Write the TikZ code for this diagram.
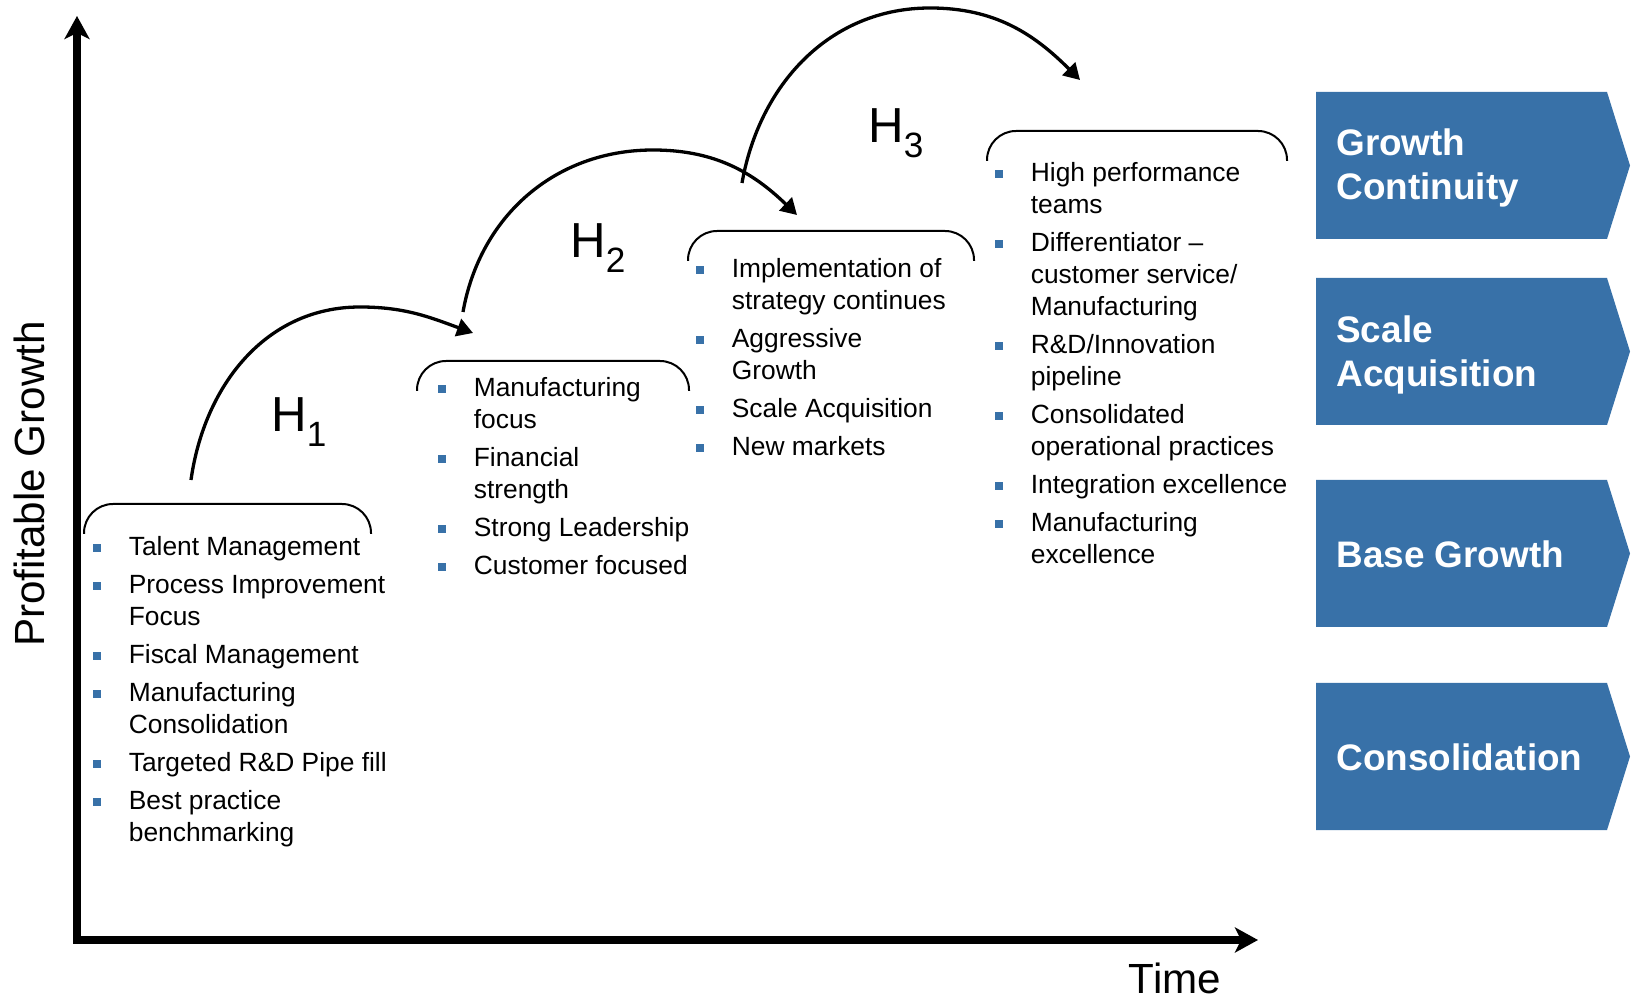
\documentclass[tikz,border=0pt]{standalone}
\usepackage{fontspec}
\setmainfont{Liberation Sans}
\usetikzlibrary{arrows.meta}
\definecolor{hblue}{RGB}{56,113,168}
\newcommand{\bul}{\makebox[7.1mm][l]{\textcolor{hblue}{\rule[0.8mm]{1.6mm}{1.6mm}}}}
\newcommand{\ind}{\hspace*{7.1mm}}
\newcommand{\hsub}[1]{\raisebox{-8.2pt}{\fontsize{20}{20}\selectfont #1}}

\begin{document}
\begin{tikzpicture}[x=0.2mm, y=0.2mm,
  axis/.style={line width=1.5mm, {Stealth[length=4.6mm,width=5mm,inset=1.2mm]}-{Stealth[length=4.6mm,width=5mm,inset=1.2mm]}},
  hop/.style={line width=0.66mm, -{Triangle[length=3.2mm,width=3.6mm]}},
  brace/.style={line width=0.4mm, rounded corners=5.8mm},
  items/.style={anchor=base west, inner sep=0pt, font=\fontsize{15}{18.2}\selectfont},
  hlabel/.style={anchor=base west, inner sep=0pt, font=\fontsize{28}{30}\selectfont},
  stage/.style={anchor=base west, inner sep=0pt, text=white, font=\fontsize{21}{25}\selectfont\bfseries},
  axlabel/.style={anchor=base, inner sep=0pt, font=\fontsize{24}{26}\selectfont}]
\useasboundingbox (0,0) rectangle (1642,1000);

% Axes
\coordinate (O) at (77,60);
\coordinate (ytop) at (77,984);
\coordinate (xend) at (1258,60);
\draw[axis] (ytop) -- (O) -- (xend);
\node[axlabel] (time) at (1175,7) {Time};
\node[axlabel, rotate=90] (pg) at (44,516) {Profitable Growth};

% Brackets over the lists
\foreach \l/\r/\t in {84/371/496, 417/689/639, 688/974/769, 987/1287/869}
  \draw[brace] (\l,\t-30) -- (\l,\t) -- (\r,\t) -- (\r,\t-30);

% Horizons
\node[hlabel] (h1) at (271,568) {H\hsub{1}};
\node[hlabel] (h2) at (570,742) {H\hsub{2}};
\node[hlabel] (h3) at (868,857) {H\hsub{3}};

% Hops between horizons
\coordinate (s1) at (191,520); \coordinate (t1) at (360,693); \coordinate (e1) at (473,667);
\coordinate (s2) at (463,688); \coordinate (t2) at (653,850); \coordinate (e2) at (797,785);
\coordinate (s3) at (742,817); \coordinate (t3) at (930,992); \coordinate (e3) at (1080,920);
\draw[hop] (s1) to[out=82,in=180] (t1) to[out=0,in=160] (e1);
\draw[hop] (s2) to[out=80,in=180] (t2) to[out=0,in=136] (e2);
\draw[hop] (s3) to[out=80,in=180] (t3) to[out=0,in=135] (e3);

% Lists
\node[items] (l1) at (93,444) {\begin{tabular}[t]{@{}l@{}}
\bul Talent Management\\[3.4pt]
\bul Process Improvement\\ \ind Focus\\[3.4pt]
\bul Fiscal Management\\[3.4pt]
\bul Manufacturing\\ \ind Consolidation\\[3.4pt]
\bul Targeted R\&D Pipe fill\\[3.4pt]
\bul Best practice\\ \ind benchmarking
\end{tabular}};
\node[items] (l2) at (438,603) {\begin{tabular}[t]{@{}l@{}}
\bul Manufacturing\\ \ind focus\\[3.4pt]
\bul Financial\\ \ind strength\\[3.4pt]
\bul Strong Leadership\\[3.4pt]
\bul Customer focused
\end{tabular}};
\node[items] (l3) at (696,722) {\begin{tabular}[t]{@{}l@{}}
\bul Implementation of\\ \ind strategy continues\\[3.4pt]
\bul Aggressive\\ \ind Growth\\[3.4pt]
\bul Scale Acquisition\\[3.4pt]
\bul New markets
\end{tabular}};
\node[items] (l4) at (995,818) {\begin{tabular}[t]{@{}l@{}}
\bul High performance\\ \ind teams\\[3.4pt]
\bul Differentiator --\\ \ind customer service/\\ \ind Manufacturing\\[3.4pt]
\bul R\&D/Innovation\\ \ind pipeline\\[3.4pt]
\bul Consolidated\\ \ind operational practices\\[3.4pt]
\bul Integration excellence\\[3.4pt]
\bul Manufacturing\\ \ind excellence
\end{tabular}};

% Stages
\foreach \t in {908,722,520,317}
  \fill[hblue] (1316,\t) -- (1607,\t) -- (1630,\t-73.5) -- (1607,\t-147) -- (1316,\t-147) -- cycle;
\node[stage] (gc) at (1336,844) {\begin{tabular}[t]{@{}l@{}}Growth\\Continuity\end{tabular}};
\node[stage] (sa) at (1336,657) {\begin{tabular}[t]{@{}l@{}}Scale\\Acquisition\end{tabular}};
\node[stage] (bg) at (1336,432) {Base Growth};
\node[stage] (cn) at (1336,229) {Consolidation};
\end{tikzpicture}
\end{document}
